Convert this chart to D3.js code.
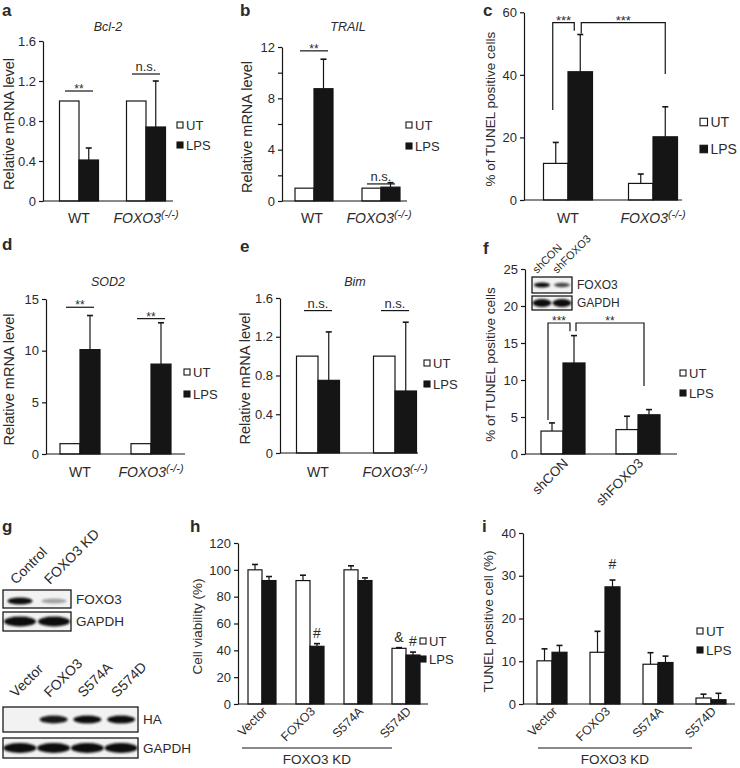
<!DOCTYPE html>
<html><head><meta charset="utf-8">
<script src="https://cdn.jsdelivr.net/npm/d3@7"></script>
<style>
body{margin:0;background:#fff}
svg{display:block}
text{font-family:'Liberation Sans',Arial,Helvetica,sans-serif;fill:#2b2b2b}
</style>
</head><body>
<svg id="fig" width="740" height="768"></svg>
<script>
// ================= DATA =================
const seriesNames = ["UT", "LPS"];
const groupsKO = ["WT", "FOXO3(-/-)"];
const groupsSh = ["shCON", "shFOXO3"];
const groupsKD = ["Vector", "FOXO3", "S574A", "S574D"];

// a  Bcl-2
const bcl2UT = [1.0, 1.0];
const bcl2LPS = [0.41, 0.74];
const bcl2LPSsd = [0.12, 0.46];
const ticksA = [0, 0.4, 0.8, 1.2, 1.6];

// b  TRAIL
const trailUT = [1.0, 1.0];
const trailLPS = [8.75, 1.08];
const trailLPSsd = [2.3, 0.35];
const ticksB = [0, 4, 8, 12];
const minorB = [2, 6, 10];

// c  TUNEL (KO)
const tunelKOUT = [11.7, 5.3];
const tunelKOUTsd = [6.7, 3.0];
const tunelKOLPS = [41.0, 20.2];
const tunelKOLPSsd = [11.9, 9.6];
const ticksC = [0, 20, 40, 60];

// d  SOD2
const sod2UT = [1.0, 1.0];
const sod2LPS = [10.1, 8.7];
const sod2LPSsd = [3.3, 4.0];
const ticksD = [0, 5, 10, 15];

// e  Bim
const bimUT = [1.0, 1.0];
const bimLPS = [0.75, 0.64];
const bimLPSsd = [0.50, 0.71];
const ticksE = [0, 0.4, 0.8, 1.2, 1.6];

// f  TUNEL (shRNA)
const tunelShUT = [3.1, 3.3];
const tunelShUTsd = [1.1, 1.8];
const tunelShLPS = [12.3, 5.3];
const tunelShLPSsd = [3.7, 0.7];
const ticksF = [0, 5, 10, 15, 20, 25];

// h  Cell viability
const viabUT = [100, 92, 100, 41.5];
const viabUTsd = [4, 4, 3, 0.5];
const viabLPS = [92, 43, 92, 36.5];
const viabLPSsd = [3, 2, 2, 2.2];
const ticksH = [0, 20, 40, 60, 80, 100, 120];

// i  TUNEL (KD rescue)
const tunelKDUT = [10.1, 12.1, 9.3, 1.4];
const tunelKDUTsd = [2.8, 4.9, 2.7, 0.9];
const tunelKDLPS = [12.1, 27.4, 9.7, 1.0];
const tunelKDLPSsd = [1.6, 1.6, 1.5, 1.5];
const ticksI = [0, 10, 20, 30, 40];

// significance marks: [group index, label, height in data units]
const sigA = [[0, "**", 1.10], [1, "n.s.", 1.27]];
const sigB = [[0, "**", 11.7], [1, "n.s.", 1.33]];
const sigD = [[0, "**", 14.2], [1, "**", 13.1]];
const sigE = [[0, "n.s.", 1.47], [1, "n.s.", 1.47]];
// brackets: [from group, from series, from foot, to group, to series, to foot, top, label]
const brC = [[0, "UT", 28.8, 0, "LPS", 54.1, 56.7, "***"], [0, "LPS", 53.2, 1, "LPS", 40.3, 56.7, "***"]];
const brF = [[0, "UT", 4.6, 0, "LPS", 16.6, 17.7, "***"], [0, "LPS", 16.6, 1, "LPS", 9.2, 17.7, "**"]];
// other marks on panels h / i: [group, series, label]
const markH = [[1, "LPS", "#"], [3, "UT", "&"], [3, "LPS", "#"]];
const markI = [[1, "LPS", "#"]];

// western blots (band intensity 0..1)
const blotGLanes1 = ["Control", "FOXO3 KD"];
const blotGFoxo3 = [1.0, 0.35];
const blotGGapdh1 = [1.0, 1.0];
const blotGLanes2 = ["Vector", "FOXO3", "S574A", "S574D"];
const blotGHA = [0.0, 0.95, 1.0, 1.0];
const blotGGapdh2 = [1.0, 1.0, 1.0, 1.0];
const blotFLanes = ["shCON", "shFOXO3"];
const blotFFoxo3 = [1.0, 0.75];
const blotFGapdh = [1.0, 1.0];

// ================= DRAWING =================
const svg = d3.select("#fig");
const INK = "#151515";
const TXT = "#2b2b2b";

const defs = svg.append("defs");
defs.append("filter").attr("id", "blur").attr("x", "-30%").attr("y", "-80%").attr("width", "160%").attr("height", "260%")
  .append("feGaussianBlur").attr("stdDeviation", 1.3);

function txt(g, x, y, s, fs, opts = {}) {
  const t = g.append("text").attr("x", x).attr("y", y).attr("font-size", fs).text(s);
  if (opts.anchor) t.attr("text-anchor", opts.anchor);
  if (opts.weight) t.attr("font-weight", opts.weight);
  if (opts.italic) t.attr("font-style", "italic");
  if (opts.rotate != null) t.attr("transform", `rotate(${opts.rotate},${x},${y})`);
  return t;
}

function koLabel(g, name, x, y, fs) {
  if (name === "FOXO3(-/-)") {
    const t = g.append("text").attr("x", x).attr("y", y).attr("font-size", fs).attr("text-anchor", "middle").attr("font-style", "italic");
    t.append("tspan").text("FOXO3");
    t.append("tspan").attr("dy", -5).attr("font-size", fs * 0.78).text("(-/-)");
  } else {
    txt(g, x, y, name, fs, {anchor: "middle"});
  }
}

function barPanel(p) {
  const g = svg.append("g");
  const y = d3.scaleLinear().domain([0, p.max]).range([p.y0, p.y1]);
  const x = d3.scalePoint().domain(p.groups).range(p.centers);
  const s = d3.scaleBand().domain(seriesNames).range([-p.bw, p.bw]);
  const bx = (grp, ser) => x(grp) + s(ser) + s.bandwidth() / 2;

  const rows = [];
  p.groups.forEach((grp, i) => {
    rows.push({grp, ser: "UT", v: p.ut[i], e: p.utSd ? p.utSd[i] : null});
    rows.push({grp, ser: "LPS", v: p.lps[i], e: p.lpsSd ? p.lpsSd[i] : null});
  });
  g.selectAll("rect.bar").data(rows).join("rect").attr("class", "bar")
    .attr("x", d => x(d.grp) + s(d.ser)).attr("width", s.bandwidth())
    .attr("y", d => y(d.v)).attr("height", d => y(0) - y(d.v))
    .attr("fill", d => d.ser === "UT" ? "#fff" : INK)
    .attr("stroke", INK).attr("stroke-width", 1.2);
  const eb = rows.filter(d => d.e != null);
  const cap = p.cap || 3;
  g.selectAll("line.err").data(eb).join("line").attr("class", "err")
    .attr("x1", d => bx(d.grp, d.ser)).attr("x2", d => bx(d.grp, d.ser))
    .attr("y1", d => y(d.v)).attr("y2", d => y(d.v + d.e))
    .attr("stroke", INK).attr("stroke-width", 1.2);
  g.selectAll("line.cap").data(eb).join("line").attr("class", "cap")
    .attr("x1", d => bx(d.grp, d.ser) - cap).attr("x2", d => bx(d.grp, d.ser) + cap)
    .attr("y1", d => y(d.v + d.e)).attr("y2", d => y(d.v + d.e))
    .attr("stroke", INK).attr("stroke-width", 1.6);

  // x baseline
  g.append("line").attr("x1", p.ox).attr("x2", p.xEnd).attr("y1", y(0)).attr("y2", y(0))
    .attr("stroke", INK).attr("stroke-width", 1.2);
  // y axis
  const a = g.append("g").attr("transform", `translate(${p.ox},0)`)
    .call(d3.axisLeft(y).tickValues(p.ticks).tickSize(4).tickSizeOuter(0).tickPadding(3).tickFormat(d => String(d)));
  a.attr("font-family", null).attr("font-size", null);
  a.selectAll("text").attr("font-size", p.tickFs || 13).attr("fill", TXT);
  a.selectAll("line,path").attr("stroke", INK).attr("stroke-width", 1.2);
  if (p.minor) {
    const m = g.append("g").attr("transform", `translate(${p.ox},0)`)
      .call(d3.axisLeft(y).tickValues(p.minor).tickSize(4).tickSizeOuter(0).tickFormat(""));
    m.select(".domain").remove();
    m.selectAll("line").attr("stroke", INK).attr("stroke-width", 1.2);
  }
  // y title
  const cy = (p.y0 + p.y1) / 2 + 3;
  txt(g, p.ylx, cy, p.ylabel, p.ylFs || 14.5, {anchor: "middle", rotate: -90}).attr("dy", "0.35em");
  // panel title
  if (p.title) txt(g, p.titleX, p.titleY, p.title, 12.5, {anchor: "middle", italic: true});
  // panel letter
  txt(g, p.letter[1], p.letter[2], p.letter[0], 17, {weight: "bold"}).attr("fill", "#111");
  // legend
  const L = p.legend;
  seriesNames.forEach((nm, i) => {
    const ly = L.ys[i];
    g.append("rect").attr("x", L.x).attr("y", ly - L.sq / 2).attr("width", L.sq).attr("height", L.sq)
      .attr("fill", nm === "UT" ? "#fff" : INK).attr("stroke", INK).attr("stroke-width", 1.1);
    txt(g, L.x + L.sq + 3, ly, nm, L.fs).attr("dy", "0.36em");
  });
  // x labels
  if (p.xRot) {
    p.groups.forEach(grp => {
      const ax = x(grp) + p.xRot.dx, ay = y(0) + p.xRot.dy;
      txt(g, ax, ay, grp, p.xRot.fs, {anchor: "end", rotate: -45});
    });
  } else {
    p.groups.forEach((grp, i) => koLabel(g, grp, x(grp) + (p.xlDx ? p.xlDx[i] : 0), p.xlY, 14));
  }
  // significance lines
  if (p.sig) {
    p.sig.forEach(([gi, lab, h]) => {
      const cx = x(p.groups[gi]);
      const ly = y(h);
      g.append("line").attr("x1", cx - 14).attr("x2", cx + 14).attr("y1", ly).attr("y2", ly)
        .attr("stroke", INK).attr("stroke-width", 1.2);
      if (lab === "n.s.") txt(g, cx, ly - 3, lab, 13, {anchor: "middle"});
      else txt(g, cx, ly + 2, lab, 12, {anchor: "middle"});
    });
  }
  // brackets
  if (p.brackets) {
    p.brackets.forEach(([g1, s1, f1, g2, s2, f2, top, lab], k) => {
      const x1 = bx(p.groups[g1], s1) + p.brDx[k][0];
      const x2 = bx(p.groups[g2], s2) + p.brDx[k][1];
      g.append("path").attr("d", `M${x1},${y(f1)}V${y(top)}H${x2}V${y(f2)}`)
        .attr("fill", "none").attr("stroke", INK).attr("stroke-width", 1.2);
      txt(g, (x1 + x2) / 2, y(top) + 2, lab, p.brFs || 12, {anchor: "middle"});
    });
  }
  // marks
  if (p.marks) {
    p.marks.forEach(([gi, ser, lab]) => {
      const d = rows.find(r => r.grp === p.groups[gi] && r.ser === ser);
      txt(g, bx(d.grp, ser), y(d.v + (d.e || 0)) - p.markGap, lab, 14, {anchor: "middle"});
    });
  }
  // group bracket under rotated labels
  if (p.kdLine) {
    const k = p.kdLine;
    g.append("line").attr("x1", k.x1).attr("x2", k.x2).attr("y1", k.y).attr("y2", k.y)
      .attr("stroke", INK).attr("stroke-width", 1.2);
    txt(g, (k.x1 + k.x2) / 2, k.y + 16, "FOXO3 KD", 13.5, {anchor: "middle"});
  }
  return {g, x, y, s};
}

function blot(g, bx0, by0, w, h, lanes, vals, bandW, bandH, dyBand, label, fs) {
  const lx = d3.scaleBand().domain(lanes).range([bx0, bx0 + w]);
  g.append("rect").attr("x", bx0).attr("y", by0).attr("width", w).attr("height", h)
    .attr("fill", "#f2f2f2").attr("stroke", "#1a1a1a").attr("stroke-width", 1.3);
  lanes.forEach((ln, i) => {
    if (vals[i] <= 0) return;
    g.append("ellipse").attr("cx", lx(ln) + lx.bandwidth() / 2).attr("cy", by0 + h / 2 + dyBand)
      .attr("rx", bandW / 2).attr("ry", bandH / 2 * (0.6 + 0.4 * vals[i]))
      .attr("fill", "#111").attr("opacity", vals[i]).attr("filter", "url(#blur)");
  });
  if (label) txt(g, bx0 + w + 5, by0 + h / 2, label, fs).attr("dy", "0.36em");
  return lx;
}

// ---- a ----
barPanel({groups: groupsKO, ut: bcl2UT, lps: bcl2LPS, lpsSd: bcl2LPSsd, max: 1.6, ticks: ticksA,
  ox: 43, y0: 201, y1: 41, xEnd: 173, centers: [79, 146], bw: 19.5,
  ylabel: "Relative mRNA level", ylx: 9, title: "Bcl-2", titleX: 108, titleY: 31, letter: ["a", 2, 16],
  legend: {x: 177, ys: [125, 145], sq: 6, fs: 13}, xlY: 223, sig: sigA});

// ---- b ----
barPanel({groups: groupsKO, ut: trailUT, lps: trailLPS, lpsSd: trailLPSsd, max: 12, ticks: ticksB, minor: minorB,
  ox: 282, y0: 201, y1: 47, xEnd: 407, centers: [314, 381], bw: 19,
  ylabel: "Relative mRNA level", ylx: 247, title: "TRAIL", titleX: 348, titleY: 31, letter: ["b", 240, 16],
  legend: {x: 406, ys: [125, 146], sq: 6, fs: 13}, xlY: 223, xlDx: [-2, -2], sig: sigB});

// ---- c ----
barPanel({groups: groupsKO, ut: tunelKOUT, utSd: tunelKOUTsd, lps: tunelKOLPS, lpsSd: tunelKOLPSsd, max: 60, ticks: ticksC,
  ox: 524, y0: 200, y1: 12.3, xEnd: 682, centers: [568, 653], bw: 24.5,
  ylabel: "% of TUNEL positive cells", ylx: 490, ylFs: 13.5, letter: ["c", 483, 16],
  legend: {x: 700, ys: [122, 149], sq: 7.5, fs: 14}, xlY: 223,
  brackets: brC, brDx: [[-3, -6], [1, 0]], brFs: 13});

// ---- d ----
barPanel({groups: groupsKO, ut: sod2UT, lps: sod2LPS, lpsSd: sod2LPSsd, max: 15, ticks: ticksD,
  ox: 46, y0: 454, y1: 299, xEnd: 185, centers: [80, 151], bw: 20,
  ylabel: "Relative mRNA level", ylx: 9, title: "SOD2", titleX: 108, titleY: 286, letter: ["d", 2, 250],
  legend: {x: 184, ys: [372, 394], sq: 6, fs: 13}, xlY: 477, sig: sigD});

// ---- e ----
barPanel({groups: groupsKO, ut: bimUT, lps: bimLPS, lpsSd: bimLPSsd, max: 1.6, ticks: ticksE,
  ox: 280, y0: 453, y1: 298, xEnd: 418, centers: [318, 395], bw: 21.5,
  ylabel: "Relative mRNA level", ylx: 245, title: "Bim", titleX: 355, titleY: 286, letter: ["e", 240, 252],
  legend: {x: 424, ys: [363, 384], sq: 6, fs: 13}, xlY: 477, sig: sigE});

// ---- f ----
const pf = barPanel({groups: groupsSh, ut: tunelShUT, utSd: tunelShUTsd, lps: tunelShLPS, lpsSd: tunelShLPSsd, max: 25, ticks: ticksF,
  ox: 525, y0: 454, y1: 269, xEnd: 677, centers: [563, 638], bw: 22,
  ylabel: "% of TUNEL positive cells", ylx: 490, ylFs: 13.5, letter: ["f", 483, 254],
  legend: {x: 680, ys: [373, 393], sq: 6, fs: 13},
  xRot: {dx: 6, dy: 10, fs: 13.5},
  brackets: brF, brDx: [[-4, -4], [2, -5]], brFs: 12});
// inset blot in f
{
  const g = pf.g;
  const lx = blot(g, 532, 277, 40, 16, blotFLanes, blotFFoxo3, 16, 5, 0, "FOXO3", 12);
  blot(g, 532, 296, 40, 14, blotFLanes, blotFGapdh, 19, 8, 0, "GAPDH", 12);
  blotFLanes.forEach(ln => txt(g, lx(ln) + lx.bandwidth() / 2 - 5, 274, ln, 11, {rotate: -45}));
}

// ---- g : western blots ----
{
  const g = svg.append("g");
  txt(g, 2, 532, "g", 17, {weight: "bold"}).attr("fill", "#111");
  const l1 = blot(g, 3, 590, 68, 18, blotGLanes1, blotGFoxo3, 25, 7, 2, "FOXO3", 13.5);
  blot(g, 3, 612, 68, 19, blotGLanes1, blotGGapdh1, 32, 10, 0, "GAPDH", 13.5);
  blotGLanes1.forEach(ln => txt(g, l1(ln) + l1.bandwidth() / 2 - 4, 585, ln, 14, {rotate: -45}));
  const l2 = blot(g, 3, 707, 135, 25, blotGLanes2, blotGHA, 28, 8, 0, "HA", 13.5);
  blot(g, 3, 738, 135, 20, blotGLanes2, blotGGapdh2, 33, 10, 0, "GAPDH", 13.5);
  blotGLanes2.forEach(ln => txt(g, l2(ln) + l2.bandwidth() / 2 - 4, 698, ln, 14, {rotate: -45}));
}

// ---- h ----
barPanel({groups: groupsKD, ut: viabUT, utSd: viabUTsd, lps: viabLPS, lpsSd: viabLPSsd, max: 120, ticks: ticksH,
  ox: 238, y0: 704, y1: 543, xEnd: 428, centers: [262, 406], bw: 14,
  ylabel: "Cell viability (%)", ylx: 197, ylFs: 13.5, letter: ["h", 190, 532],
  legend: {x: 420, ys: [641, 659], sq: 6, fs: 13},
  xRot: {dx: 6, dy: 8, fs: 12.5}, marks: markH, markGap: 6, cap: 3,
  kdLine: {x1: 242, x2: 392, y: 748}});

// ---- i ----
barPanel({groups: groupsKD, ut: tunelKDUT, utSd: tunelKDUTsd, lps: tunelKDLPS, lpsSd: tunelKDLPSsd, max: 40, ticks: ticksI,
  ox: 523, y0: 704, y1: 533, xEnd: 735, centers: [552, 711], bw: 15,
  ylabel: "TUNEL positive cell (%)", ylx: 488, ylFs: 13.5, letter: ["i", 482, 532],
  legend: {x: 697, ys: [631, 650], sq: 6, fs: 13.5},
  xRot: {dx: 6, dy: 8, fs: 12.5}, marks: markI, markGap: 11, cap: 3,
  kdLine: {x1: 538, x2: 692, y: 748}});
</script>
</body></html>
